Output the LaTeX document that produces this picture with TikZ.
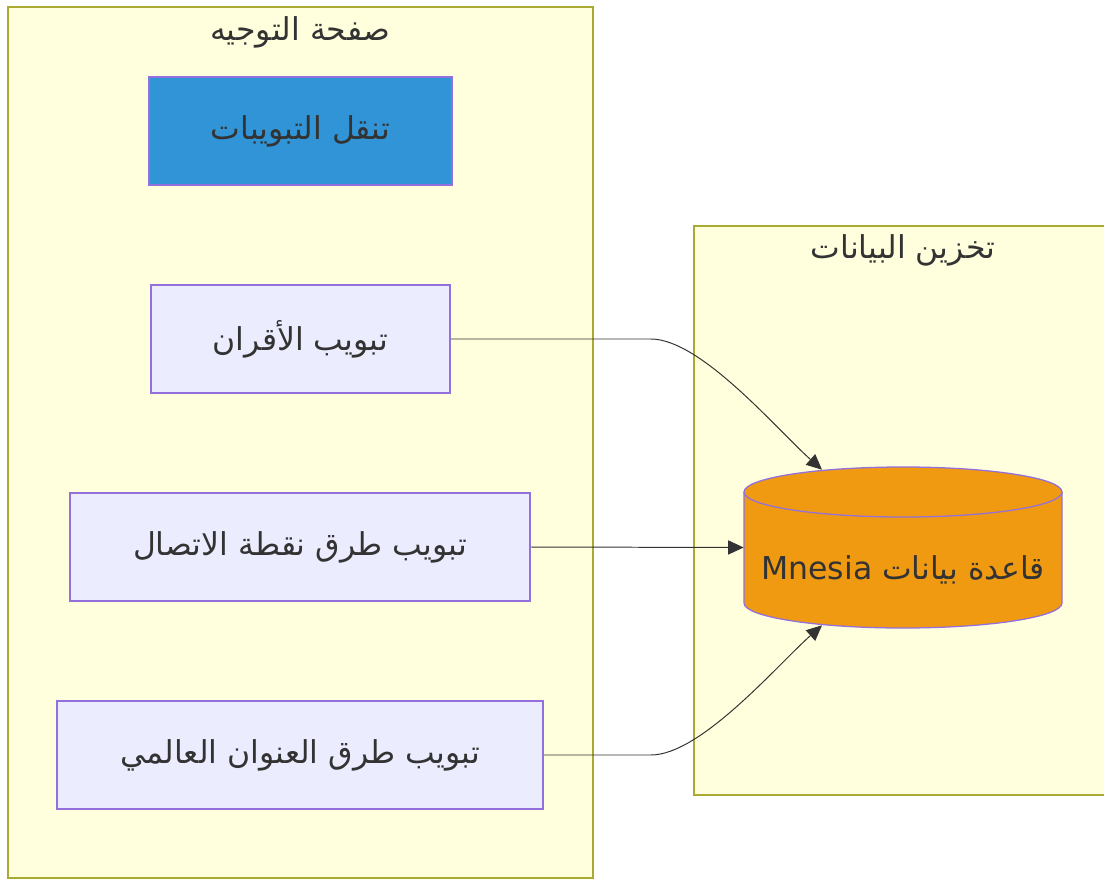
\documentclass[tikz,border=0pt]{standalone}
\usepackage{fontspec}
\setmainfont{DejaVu Sans}
\newfontfamily\arabicfont[Script=Arabic]{DejaVu Sans}
\TeXXeTstate=1
\usetikzlibrary{arrows.meta,calc}

\definecolor{clusterfill}{HTML}{FFFFDE}
\definecolor{clusterline}{HTML}{AAAA33}
\definecolor{boxfill}{HTML}{ECECFF}
\definecolor{boxline}{HTML}{9370DB}
\definecolor{navfill}{HTML}{3094D6}
\definecolor{dbfill}{HTML}{F09A12}
\definecolor{inktext}{HTML}{333333}

\newcommand{\artext}[1]{{\arabicfont\beginR #1\endR}}

\begin{document}
\begin{tikzpicture}[x=0.025cm, y=0.025cm,
    cluster/.style={draw=clusterline, fill=clusterfill, line width=1.1pt},
    tabbox/.style={draw=boxline, fill=boxfill, line width=1.1pt, inner sep=0pt,
      minimum height=2.7cm, text=inktext, font=\fontsize{22.4}{26}\selectfont},
    title/.style={text=inktext, font=\fontsize{22.4}{26}\selectfont},
    link/.style={draw=inktext, line width=0.7pt, -{Triangle[length=11pt,width=10pt]}}]
  \useasboundingbox (0,0) rectangle (1104,-880);

  % Clusters
  \node[cluster, minimum width=14.625cm, minimum height=21.775cm] (routing) at (300.5,-442.5) {};
  \node[cluster, minimum width=10.4cm, minimum height=14.225cm] (storage) at (902,-510.5) {};
  \node[title] (routingtitle) at (300,-32) {\artext{صفحة التوجيه}};
  \node[title] (storagetitle) at (903,-250) {\artext{تخزين البيانات}};

  % Tabs
  \node[tabbox, fill=navfill, minimum width=7.575cm] (nav) at (300.5,-131) {\artext{تنقل التبويبات}};
  \node[tabbox, minimum width=7.475cm] (peers) at (300.5,-339) {\artext{تبويب الأقران}};
  \node[tabbox, minimum width=11.5cm] (endpoint) at (300,-547) {\artext{تبويب طرق نقطة الاتصال}};
  \node[tabbox, minimum width=12.15cm] (global) at (300,-755) {\artext{تبويب طرق العنوان العالمي}};

  % Mnesia cylinder
  \filldraw[fill=dbfill, draw=boxline, line width=0.9pt]
    (744,-492) -- (744,-603) arc[start angle=180, end angle=360, x radius=159, y radius=25]
    -- (1062,-492) arc[start angle=0, end angle=180, x radius=159, y radius=25] -- cycle;
  \draw[boxline, line width=0.9pt] (744,-492) arc[start angle=180, end angle=360, x radius=159, y radius=25];
  \node[title, inner sep=0pt, minimum width=7.95cm, minimum height=4.025cm] (db) at (903,-547.5)
    {\raisebox{-0.8cm}[0pt][0pt]{\artext{قاعدة بيانات \beginL Mnesia\endL}}};

  % Links
  \draw[link] (peers.east) -- ++(200,0) .. controls +(50,0) and +(-45,40) .. ($(db.north)+(-81,-3)$);
  \draw[link] (endpoint.east) -- (db.west);
  \draw[link] (global.east) -- ++(107,0) .. controls +(50,0) and +(-45,-40) .. ($(db.south)+(-81,3)$);
\end{tikzpicture}
\end{document}
